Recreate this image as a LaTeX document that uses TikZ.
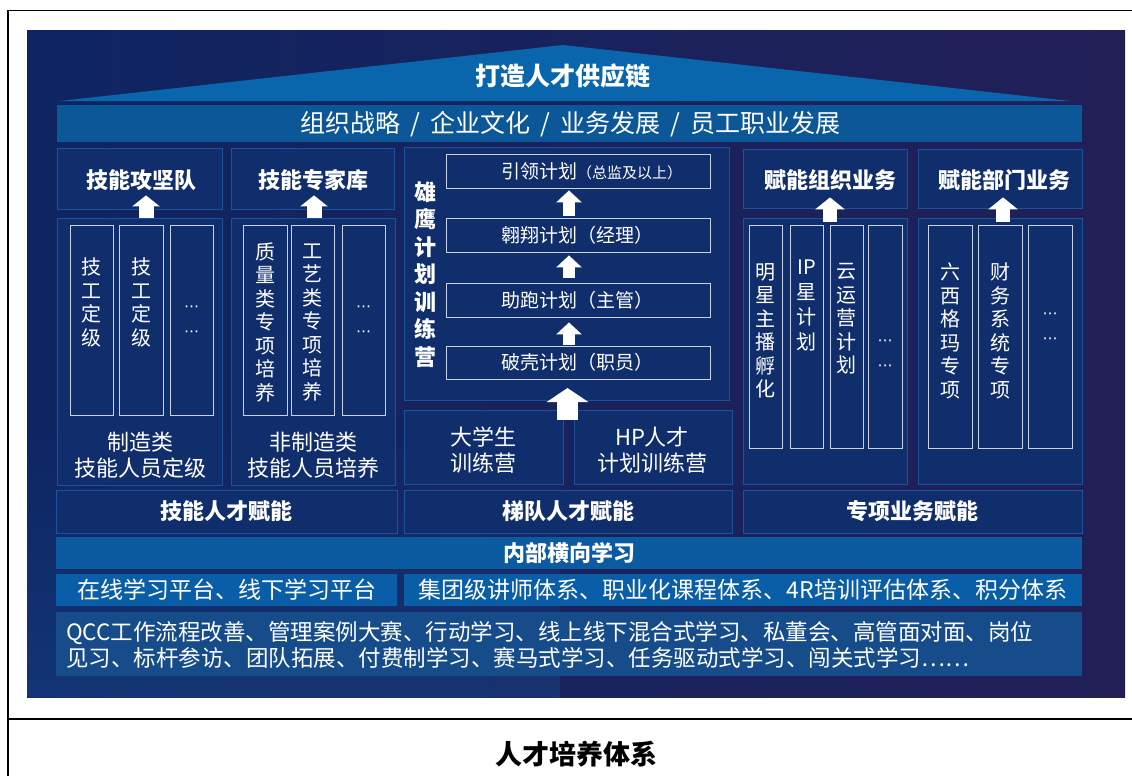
\documentclass[tikz,border=0pt]{standalone}
\usepackage{fontspec}
\setmainfont{Noto Sans CJK SC}
\newfontfamily\dejavu{DejaVu Sans}
\usetikzlibrary{arrows.meta,fit,calc}
\definecolor{cBgL}{HTML}{0E2562}
\definecolor{cBgR}{HTML}{221F57}
\definecolor{cBox}{HTML}{112E6C}
\definecolor{cBorder}{HTML}{1C5299}
\definecolor{cStrip}{HTML}{C9D2E4}
\definecolor{cRoof}{HTML}{0A66AC}
\definecolor{cBanner}{HTML}{0B5797}
\definecolor{cBand}{HTML}{0C5AA0}
\definecolor{cOnline}{HTML}{0A5EA8}
\definecolor{cQcc}{HTML}{164C8A}
\tikzset{
  panelbox/.style={draw=cBorder, fill=cBox, line width=0.8pt, inner sep=0pt},
  stripbox/.style={draw=cStrip, line width=0.9pt, inner sep=0pt},
  flatbox/.style={fill=#1, inner sep=0pt},
  hdr/.style={text=white, font=\bfseries\fontsize{22}{26}\selectfont, inner sep=0pt},
  txt/.style={text=white, font=\fontsize{22}{26}\selectfont, align=center, inner sep=0pt},
  vtxt/.style={text=white, font=\fontsize{20}{23.5}\selectfont, align=center, inner sep=0pt},
  vdots/.style={text=white, font=\dejavu\fontsize{15}{24.5}\selectfont, align=center, inner sep=0pt},
  plantxt/.style={text=white, font=\fontsize{19}{22}\selectfont, anchor=west, inner sep=0pt},
  uparr/.style n args={3}{draw=white, line width=#1, -{Triangle[width=#2, length=#3]}},
}
\newcommand\slsep{\hspace{4.5pt} / \hspace{4.5pt}}
\begin{document}
\begin{tikzpicture}[x=1pt,y=-1pt]
\useasboundingbox (0,0) rectangle (1132,776);
% frame
\draw[line width=1.2pt] (8,10.5) -- (1132,10.5);
\draw[line width=1.2pt] (8,10) -- (8,776);
\draw[line width=1.4pt] (8,719) -- (1132,719);
% background panel
\shade[left color=cBgL, right color=cBgR] (27,31) rectangle (1125,697);
\shade[top color=cBgL, bottom color=cBorder, opacity=0.35] (27,420) rectangle (560,697);
% roof
\fill[cRoof] (60,101) -- (563,45) -- (1070,101) -- cycle;
\node[hdr, font=\bfseries\fontsize{25}{30}\selectfont] (rooftxt) at (563,76) {打造人才供应链};
% banner
\node[flatbox=cBanner, fit={(57,105) (1082,142)}] (banner) {};
\node[txt, font=\fontsize{25}{30}\selectfont] (bannertxt) at (570,124) {组织战略\slsep 企业文化\slsep 业务发展\slsep 员工职业发展};

% left headers and containers
\node[panelbox, fit={(57,148) (222,209)}] (hL1) {};
\node[panelbox, fit={(231,148) (394,209)}] (hL2) {};
\node[hdr] (thL1) at (141,180) {技能攻坚队};
\node[hdr] (thL2) at (313,180) {技能专家库};
\node[panelbox, fit={(57,218) (222,485)}] (cL1) {};
\node[panelbox, fit={(231,218) (395,485)}] (cL2) {};
\node[txt] (tcL1) at (140,455) {制造类\\技能人员定级};
\node[txt] (tcL2) at (313,455) {非制造类\\技能人员培养};
% left strips
\node[stripbox, fit={(70,225) (113,415)}] (s11) {};
\node[stripbox, fit={(119,225) (163,415)}] (s12) {};
\node[stripbox, fit={(170,225) (213,415)}] (s13) {};
\node[stripbox, fit={(243,225) (287,415)}] (s21) {};
\node[stripbox, fit={(291,225) (334,415)}] (s22) {};
\node[stripbox, fit={(342,225) (385,415)}] (s23) {};
\node[vtxt] (ts11) at (s11.center |- 0,302.5) {技\\工\\定\\级};
\node[vtxt] (ts12) at (s12.center |- 0,302.5) {技\\工\\定\\级};
\node[vdots] (ts13) at (s13.center |- 0,321) {⋯\\⋯};
\node[vtxt] (ts21) at (s21.center |- 0,322.5) {质\\量\\类\\专\\项\\培\\养};
\node[vtxt] (ts22) at (s22.center |- 0,322.5) {工\\艺\\类\\专\\项\\培\\养};
\node[vdots] (ts23) at (s23.center |- 0,321) {⋯\\⋯};
% left arrows
\draw[uparr={15pt}{27pt}{11pt}] ([xshift=6.5pt]cL1.north) -- ([xshift=6.5pt,yshift=14pt]hL1.south);
\draw[uparr={15pt}{27pt}{11pt}] ([xshift=1pt]cL2.north) -- ([xshift=1.5pt,yshift=14pt]hL2.south);

% middle
\node[panelbox, fit={(404,147) (729,400)}] (xy) {};
\node[vtxt, font=\bfseries\fontsize{22}{27.5}\selectfont] (txy) at (425,274.5) {雄\\鹰\\计\\划\\训\\练\\营};
\node[stripbox, fit={(446,154) (710,188)}] (yl) {};
\node[stripbox, fit={(446,218) (710,252)}] (ax) {};
\node[stripbox, fit={(446,283) (710,317)}] (zp) {};
\node[stripbox, fit={(446,346) (710,379)}] (pk) {};
\node[plantxt] (tyl) at (501,171) {引领计划{\fontsize{15}{18}\selectfont（总监及以上）}};
\node[plantxt] (tax) at (501,235) {翱翔计划（经理）};
\node[plantxt] (tzp) at (501,300) {助跑计划（主管）};
\node[plantxt] (tpk) at (501,362.5) {破壳计划（职员）};
\draw[uparr={12pt}{25pt}{12pt}] ([xshift=-9pt,yshift=2pt]ax.north) -- ([xshift=-9pt,yshift=-2pt]yl.south);
\draw[uparr={12pt}{25pt}{12pt}] ([xshift=-9pt,yshift=5pt]zp.north) -- ([xshift=-9pt,yshift=-3pt]ax.south);
\draw[uparr={12pt}{25pt}{12pt}] ([xshift=-9pt,yshift=1pt]pk.north) -- ([xshift=-9pt,yshift=-5pt]zp.south);
\node[panelbox, fit={(404,410) (563,484)}] (dxs) {};
\node[panelbox, fit={(574,410) (732,484)}] (hp) {};
\node[txt] (tdxs) at (483.5,450) {大学生\\训练营};
\node[txt] (thp) at (652,450) {HP人才\\计划训练营};
\coordinate (bigfoot) at ($(dxs.north east)!0.5!(hp.north west)+(-1,10)$);
\draw[uparr={21pt}{41pt}{14pt}] (bigfoot) -- (bigfoot |- 0,388);

% right headers and containers
\node[panelbox, fit={(743,149) (907,208)}] (hR1) {};
\node[panelbox, fit={(918,149) (1082,208)}] (hR2) {};
\node[hdr] (thR1) at (830,180.5) {赋能组织业务};
\node[hdr] (thR2) at (1004,180.5) {赋能部门业务};
\node[panelbox, fit={(743,218) (907,484)}] (cR1) {};
\node[panelbox, fit={(918,218) (1082,484)}] (cR2) {};
\node[stripbox, fit={(749,225) (782,448)}] (s31) {};
\node[stripbox, fit={(790,225) (823,448)}] (s32) {};
\node[stripbox, fit={(830,225) (863,448)}] (s33) {};
\node[stripbox, fit={(868,225) (902,448)}] (s34) {};
\node[stripbox, fit={(928,225) (972,448)}] (s41) {};
\node[stripbox, fit={(978,225) (1022,448)}] (s42) {};
\node[stripbox, fit={(1028,225) (1072,448)}] (s43) {};
\node[vtxt] (ts31) at (s31.center |- 0,331) {明\\星\\主\\播\\孵\\化};
\node[vtxt, font=\fontsize{20}{25}\selectfont] (ts32) at (s32.center |- 0,305.5) {IP\\星\\计\\划};
\node[vtxt] (ts33) at (s33.center |- 0,319) {云\\运\\营\\计\\划};
\node[vdots] (ts34) at (s34.center |- 0,355) {⋯\\⋯};
\node[vtxt] (ts41) at (s41.center |- 0,331) {六\\西\\格\\玛\\专\\项};
\node[vtxt] (ts42) at (s42.center |- 0,331) {财\\务\\系\\统\\专\\项};
\node[vdots] (ts43) at (s43.center |- 0,328) {⋯\\⋯};
\draw[uparr={14pt}{29pt}{12pt}] ([xshift=5pt,yshift=-4pt]cR1.north) -- ([xshift=5pt,yshift=11pt]hR1.south);
\draw[uparr={14pt}{29pt}{12pt}] ([xshift=3pt,yshift=-4pt]cR2.north) -- ([xshift=3pt,yshift=11pt]hR2.south);

% bottom rows
\node[panelbox, fit={(56,490) (397,533)}] (b1) {};
\node[panelbox, fit={(404,490) (732,533)}] (b2) {};
\node[panelbox, fit={(743,490) (1082,533)}] (b3) {};
\node[hdr] (tb1) at (b1) {技能人才赋能};
\node[hdr] (tb2) at (b2) {梯队人才赋能};
\node[hdr] (tb3) at (b3) {专项业务赋能};
\node[flatbox=cBand, fit={(56,537) (1082,569)}] (band) {};
\node[hdr] (tband) at (band) {内部横向学习};
\node[flatbox=cOnline, fit={(56,574) (397,606)}] (ol) {};
\node[flatbox=cOnline, fit={(404,574) (1082,606)}] (jt) {};
\node[txt, font=\fontsize{23}{26}\selectfont] (tol) at (ol) {在线学习平台、线下学习平台};
\node[txt, font=\fontsize{23}{26}\selectfont] (tjt) at (743,590) {集团级讲师体系、职业化课程体系、4R培训评估体系、积分体系};
\node[flatbox=cQcc, fit={(56,612) (1082,676)}] (qcc) {};
\node[txt, font=\fontsize{22.5}{26}\selectfont, align=left, anchor=west] (tqcc) at (66,645) {QCC工作流程改善、管理案例大赛、行动学习、线上线下混合式学习、私董会、高管面对面、岗位\\见习、标杆参访、团队拓展、付费制学习、赛马式学习、任务驱动式学习、闯关式学习……};

% caption
\node[font=\bfseries\fontsize{27}{30}\selectfont, inner sep=0pt] (caption) at (576,754) {人才培养体系};
\end{tikzpicture}
\end{document}
